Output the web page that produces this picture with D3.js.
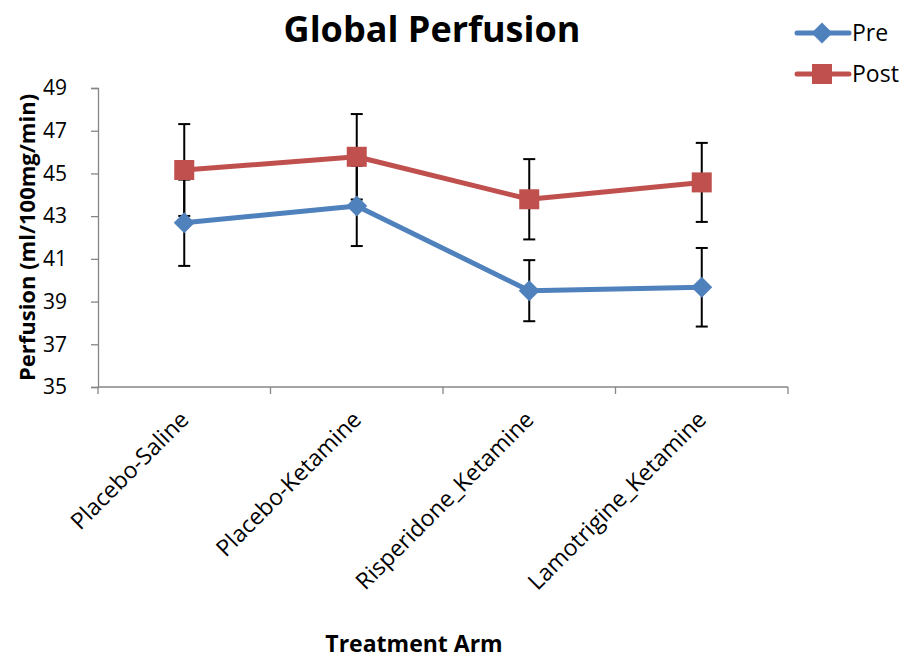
<!DOCTYPE html>
<html>
<head>
<meta charset="utf-8">
<script src="https://cdn.jsdelivr.net/npm/d3@7"></script>
<style>
  body { margin: 0; background: #fff; }
  text { font-family: "Open Sans", "Noto Sans", sans-serif; fill: #000; }
</style>
</head>
<body>
<div id="chart"></div>
<script>
var w = 904, h = 659;

// data
var categories = ["Placebo-Saline", "Placebo-Ketamine", "Risperidone_Ketamine", "Lamotrigine_Ketamine"];
var preValues = [42.69, 43.48, 39.51, 39.67];
var preErr = [2.02, 1.88, 1.43, 1.84];
var postValues = [45.16, 45.78, 43.79, 44.58];
var postErr = [2.15, 2.0, 1.88, 1.85];
var yTicks = [35, 37, 39, 41, 43, 45, 47, 49];

var series = [
  { name: "Pre", values: preValues, err: preErr, color: "#4F81BD", marker: "diamond" },
  { name: "Post", values: postValues, err: postErr, color: "#C0504D", marker: "square" }
];

var svg = d3.select("#chart").append("svg")
  .attr("width", w).attr("height", h);

// plot area (note: "top" is reserved on window, so prefixed names)
var pLeft = 98, pRight = 788, pTop = 88, pBottom = 387;

var x = d3.scaleBand().domain(categories).range([pLeft, pRight]);
var y = d3.scaleLinear().domain([35, 49]).range([pBottom, pTop]);
var cx = function (c) { return x(c) + x.bandwidth() / 2; };

// y axis
var yAxis = svg.append("g")
  .attr("transform", "translate(" + pLeft + ",0)")
  .call(d3.axisLeft(y).tickValues(yTicks).tickSize(7).tickPadding(23).tickFormat(d3.format("d")));
yAxis.select(".domain").attr("stroke", "#868686").attr("stroke-width", 1.3);
yAxis.selectAll(".tick line").attr("stroke", "#868686").attr("stroke-width", 1.3);
yAxis.selectAll(".tick text").attr("font-size", 21).attr("font-family", "Open Sans")
  .attr("fill", "#000").attr("text-anchor", "start").attr("x", -55);

// x axis: ticks on category boundaries
var xg = svg.append("g");
xg.append("line")
  .attr("x1", pLeft).attr("x2", pRight).attr("y1", pBottom).attr("y2", pBottom)
  .attr("stroke", "#868686").attr("stroke-width", 1.3);
var bounds = categories.map(function (c) { return x(c); }).concat([pRight]);
xg.selectAll("line.xtick").data(bounds).enter().append("line")
  .attr("class", "xtick")
  .attr("x1", d => d).attr("x2", d => d)
  .attr("y1", pBottom).attr("y2", pBottom + 7)
  .attr("stroke", "#868686").attr("stroke-width", 1.3);

xg.selectAll("text.xlab").data(categories).enter().append("text")
  .attr("class", "xlab")
  .attr("font-size", 23)
  .attr("text-anchor", "end")
  .attr("transform", d => "translate(" + (cx(d) + 6) + "," + (pBottom + 34) + ") rotate(-45)")
  .text(d => d);

// error bars
series.forEach(function (s) {
  var g = svg.append("g");
  categories.forEach(function (c, i) {
    var lo = y(s.values[i] - s.err[i]), hi = y(s.values[i] + s.err[i]), xc = cx(c);
    g.append("line").attr("x1", xc).attr("x2", xc).attr("y1", lo).attr("y2", hi)
      .attr("stroke", "#000").attr("stroke-width", 2);
    [lo, hi].forEach(function (yy) {
      g.append("line").attr("x1", xc - 6).attr("x2", xc + 6).attr("y1", yy).attr("y2", yy)
        .attr("stroke", "#000").attr("stroke-width", 2);
    });
  });
});

// lines + markers
var line = d3.line().x((d, i) => cx(categories[i])).y(d => y(d));

function drawMarker(g, s, px, py) {
  if (s.marker === "square") {
    g.append("rect").attr("x", px - 10).attr("y", py - 10)
      .attr("width", 20).attr("height", 20).attr("fill", s.color);
  } else {
    g.append("path").attr("d", "M0,-10.5L10.5,0L0,10.5L-10.5,0Z")
      .attr("transform", "translate(" + px + "," + py + ")").attr("fill", s.color);
  }
}

series.forEach(function (s) {
  svg.append("path").datum(s.values)
    .attr("d", line).attr("fill", "none")
    .attr("stroke", s.color).attr("stroke-width", 5).attr("stroke-linejoin", "round");
  var g = svg.append("g");
  s.values.forEach(function (v, i) { drawMarker(g, s, cx(categories[i]), y(v)); });
});

// legend
var legY = [33, 74];
series.forEach(function (s, i) {
  var g = svg.append("g");
  g.append("line").attr("x1", 797).attr("x2", 849).attr("y1", legY[i]).attr("y2", legY[i])
    .attr("stroke", s.color).attr("stroke-width", 5).attr("stroke-linecap", "round");
  drawMarker(g, s, 822, legY[i]);
  g.append("text").attr("x", 852).attr("y", legY[i] + 8).attr("font-size", 23).text(s.name);
});

// titles
svg.append("text").attr("x", 432).attr("y", 42).attr("text-anchor", "middle")
  .attr("font-size", 36).attr("font-weight", "bold").text("Global Perfusion");

svg.append("text").attr("transform", "translate(35," + ((pTop + pBottom) / 2) + ") rotate(-90)")
  .attr("text-anchor", "middle").attr("font-size", 22).attr("font-weight", "bold")
  .text("Perfusion (ml/100mg/min)");

svg.append("text").attr("x", 414).attr("y", 652).attr("text-anchor", "middle")
  .attr("font-size", 23).attr("font-weight", "bold").text("Treatment Arm");
</script>
</body>
</html>
